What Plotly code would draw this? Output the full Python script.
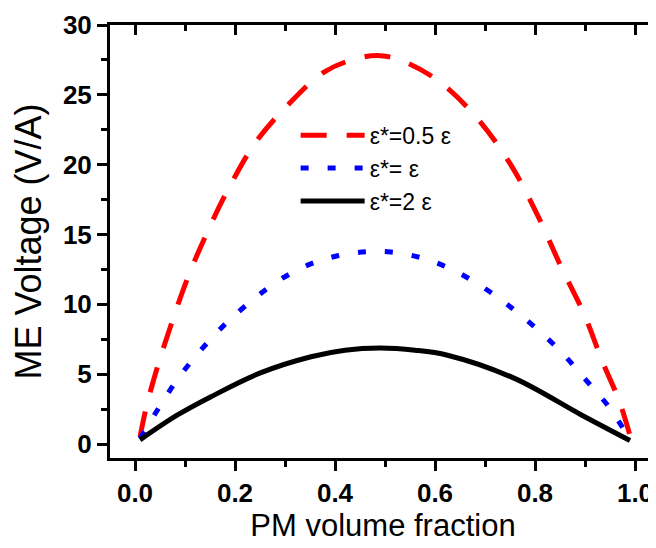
import plotly.graph_objects as go

# PM volume fraction / ME voltage (V/A)
x_red = [0.01, 0.022, 0.042, 0.072, 0.105, 0.145, 0.189, 0.242, 0.309, 0.379, 0.445, 0.492,
         0.539, 0.609, 0.685, 0.752, 0.805, 0.852, 0.899, 0.935, 0.969, 0.99]
y_red = [0.5, 2.55, 5.18, 8.52, 11.86, 15.2, 18.42, 21.64, 24.39, 26.65, 27.61, 27.8,
         27.37, 25.94, 23.3, 19.97, 16.39, 12.7, 9.23, 5.89, 3.03, 0.6]

x_blue = [0.01, 0.049, 0.085, 0.129, 0.182, 0.239, 0.292, 0.349, 0.405, 0.462, 0.512,
          0.572, 0.629, 0.684, 0.739, 0.795, 0.852, 0.902, 0.949, 0.99]
y_blue = [0.4, 2.67, 4.63, 6.61, 8.64, 10.43, 11.81, 12.86, 13.48, 13.77, 13.75,
          13.34, 12.58, 11.5, 10.14, 8.52, 6.61, 4.58, 2.6, 0.3]

x_black = [0.01, 0.085, 0.152, 0.252, 0.352, 0.42, 0.49, 0.56, 0.625, 0.759, 0.892, 0.99]
y_black = [0.3, 2.08, 3.39, 5.11, 6.25, 6.72, 6.87, 6.72, 6.36, 4.70, 2.1, 0.25]

names = ["ε*=0.5 ε", "ε*= ε", "ε*=2 ε"]
x_ticks = [0.0, 0.2, 0.4, 0.6, 0.8, 1.0]
y_ticks = [0, 5, 10, 15, 20, 25, 30]

FONT = "Liberation Sans, Arial, sans-serif"

fig = go.Figure()
fig.add_trace(go.Scatter(x=x_red, y=y_red, mode="lines", name=names[0], line_shape="spline",
                         line=dict(color="#FF0000", width=5, dash="26px,20px")))
fig.add_trace(go.Scatter(x=x_blue, y=y_blue, mode="lines", name=names[1], line_shape="spline",
                         line=dict(color="#0000FF", width=5, dash="8px,19px")))
fig.add_trace(go.Scatter(x=x_black, y=y_black, mode="lines", name=names[2], line_shape="spline",
                         line=dict(color="#000000", width=5)))
# helper trace so the mirrored top/right axes are drawn
fig.add_trace(go.Scatter(x=[None], y=[None], xaxis="x2", yaxis="y2", showlegend=False,
                         hoverinfo="skip"))

xr = [-0.05, 1.042]
yr = [-1, 30]

# the page body adds an 8px offset, so the figure is 8px smaller and margins compensate
fig.update_layout(
    width=648, height=540,
    margin=dict(l=102, r=0, t=17, b=90),
    paper_bgcolor="white", plot_bgcolor="white",
    showlegend=True,
    legend=dict(x=0.34, y=0.795, xanchor="left", yanchor="top", bgcolor="rgba(0,0,0,0)",
                font=dict(family=FONT, size=23, color="black"), itemwidth=64,
                tracegroupgap=0),
    xaxis=dict(range=xr, domain=[0, 1], showgrid=False, zeroline=False,
               showline=True, linewidth=3, linecolor="black",
               ticks="outside", ticklen=10, tickwidth=3, tickcolor="black",
               tickvals=x_ticks, ticktext=[f"{v:.1f}" for v in x_ticks],
               minor=dict(dtick=0.1, tick0=0, ticks="outside", ticklen=6, tickwidth=3,
                          tickcolor="black", showgrid=False),
               tickfont=dict(family=FONT, size=26, color="black", weight="bold"),
               title=dict(text="PM volume fraction", standoff=1,
                          font=dict(family=FONT, size=31, color="black"))),
    yaxis=dict(range=yr, domain=[0, 1], showgrid=False, zeroline=False,
               showline=True, linewidth=3, linecolor="black",
               ticks="outside", ticklen=10, tickwidth=3, tickcolor="black",
               tickvals=y_ticks, ticktext=[str(v) for v in y_ticks],
               minor=dict(dtick=2.5, tick0=0, ticks="outside", ticklen=6, tickwidth=3,
                          tickcolor="black", showgrid=False),
               tickfont=dict(family=FONT, size=26, color="black", weight="bold"),
               title=dict(text="ME Voltage (V/A)", standoff=11,
                          font=dict(family=FONT, size=36, color="black"))),
    xaxis2=dict(range=xr, overlaying="x", side="top", anchor="y", showgrid=False,
                zeroline=False, showline=True, linewidth=3, linecolor="black",
                ticks="inside", ticklen=10, tickwidth=3, tickcolor="black",
                tickvals=x_ticks, showticklabels=False,
                minor=dict(dtick=0.1, tick0=0, ticks="inside", ticklen=6, tickwidth=3,
                           tickcolor="black", showgrid=False)),
    yaxis2=dict(range=yr, overlaying="y", side="right", anchor="x", showgrid=False,
                zeroline=False, showline=False,
                ticks="inside", ticklen=7, tickwidth=3, tickcolor="black",
                tickvals=y_ticks, showticklabels=False,
                minor=dict(dtick=2.5, tick0=0, ticks="inside", ticklen=3, tickwidth=3,
                           tickcolor="black", showgrid=False)),
)

fig.write_html("out.html")
